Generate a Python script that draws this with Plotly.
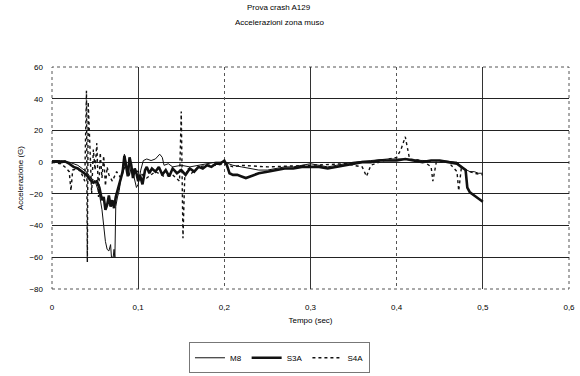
import plotly.graph_objects as go

# Crash test A129 - nose-zone accelerations (G) over time (s)
t_s3a = [0, 0.005, 0.01, 0.015, 0.02, 0.025, 0.03, 0.035, 0.04, 0.044, 0.048, 0.052,
         0.055, 0.058, 0.06, 0.062, 0.064, 0.066, 0.068, 0.07, 0.072, 0.074, 0.076,
         0.078, 0.08, 0.082, 0.084, 0.086, 0.088, 0.09, 0.092, 0.094, 0.096, 0.098,
         0.1, 0.102, 0.105, 0.108, 0.11, 0.113, 0.116, 0.12, 0.124, 0.128, 0.132,
         0.136, 0.14, 0.145, 0.15, 0.155, 0.16, 0.165, 0.17, 0.175, 0.18, 0.185,
         0.19, 0.195, 0.2, 0.203, 0.206, 0.21, 0.215, 0.22, 0.225, 0.23, 0.235, 0.24,
         0.25, 0.26, 0.27, 0.28, 0.29, 0.3, 0.31, 0.32, 0.33, 0.34, 0.35, 0.36, 0.37,
         0.38, 0.39, 0.4, 0.41, 0.42, 0.43, 0.44, 0.45, 0.46, 0.47, 0.475, 0.48,
         0.482, 0.485, 0.49, 0.495, 0.5]
v_s3a = [0, 0.5, 0, 0.5, -1, -3, -4, -6, -8, -11, -13, -12,
         -16, -24, -22, -30, -27, -21, -28, -24, -29, -22, -18,
         -15, -10, -6, 4, -4, -9, 3, -2, -10, -4, -7,
         -12, -8, -14, -5, -3, -7, -4, -6, -3, -8, -5,
         -9, -4, -7, -5, -8, -4, -6, -3, -4, -2, -3,
         -1, -1, 1, -2, -7, -8, -8, -9, -10, -9, -8, -7,
         -6, -5, -4, -4, -3, -3, -3, -4, -3, -2, -1, 0, 0,
         1, 1, 1, 2, 1, 0, 1, 1, 0, -1, -3, -5,
         -16, -19, -21, -23, -25]

t_m8 = [0, 0.01, 0.02, 0.03, 0.035, 0.04, 0.045, 0.05, 0.055, 0.058, 0.06, 0.062,
        0.064, 0.066, 0.068, 0.069, 0.071, 0.072, 0.073, 0.074, 0.076, 0.078, 0.08,
        0.082, 0.084, 0.086, 0.088, 0.09, 0.092, 0.095, 0.098, 0.1, 0.103, 0.106,
        0.11, 0.115, 0.12, 0.125, 0.128, 0.13, 0.135, 0.14, 0.15, 0.16, 0.17, 0.18,
        0.19, 0.2, 0.205, 0.21, 0.22, 0.23, 0.24, 0.25, 0.26, 0.27, 0.28, 0.29, 0.3,
        0.31, 0.32, 0.33, 0.34, 0.35, 0.37, 0.39, 0.41, 0.43, 0.45, 0.47, 0.478,
        0.485, 0.49, 0.495, 0.5]
v_m8 = [1, 1, 0, -2, -4, -6, -10, -12, -20, -30, -40, -50,
        -55, -56, -52, -60, -60, -55, -60, -28, -22, -18, -10,
        -4, 5, 0, -6, -8, -3, -9, -16, -14, -5, 1,
        2, 1, 2, 5, 3, -2, -1, -3, -2, -3, -2, -1,
        0, 0, -1, -2, -3, -4, -5, -5, -4, -3, -3, -2, -1,
        -2, -3, -2, -1, 0, 1, 2, 2, 1, 1, 0, -4,
        -6, -6, -7, -7]

t_s4a = [0, 0.01, 0.015, 0.02, 0.022, 0.024, 0.03, 0.035, 0.038, 0.04, 0.041, 0.042,
         0.044, 0.046, 0.048, 0.05, 0.052, 0.054, 0.056, 0.058, 0.06, 0.062, 0.064,
         0.066, 0.07, 0.075, 0.08, 0.085, 0.09, 0.095, 0.1, 0.11, 0.12, 0.13, 0.14,
         0.148, 0.15, 0.152, 0.154, 0.158, 0.162, 0.17, 0.18, 0.19, 0.2, 0.21, 0.22,
         0.25, 0.3, 0.34, 0.36, 0.365, 0.37, 0.39, 0.4, 0.405, 0.41, 0.415, 0.43,
         0.44, 0.442, 0.446, 0.46, 0.47, 0.472, 0.475, 0.48, 0.49, 0.5]
v_s4a = [0, -1, -3, -6, -18, -5, -4, -8, -12, 45, -63, 38,
         10, -20, 8, -5, 12, -22, 6, -10, 4, -15, -3,
         -8, -12, -6, -10, -2, -8, -5, -6, -10, -6, -9, -8,
         -12, 32, -48, -10, -4, -7, -3, -2, -2, -1, -3, -2,
         -3, -2, -1, -3, -9, -2, 2, 3, 8, 16, 2, 1,
         -3, -12, 0, 0, -6, -18, -4, -5, -7, -8]

x_ticks = [0, 0.1, 0.2, 0.3, 0.4, 0.5, 0.6]
y_ticks = [-80, -60, -40, -20, 0, 20, 40, 60]

FONT = "Liberation Sans, Arial, sans-serif"
INK = "#111111"

fig = go.Figure()
fig.add_trace(go.Scatter(x=t_m8, y=v_m8, mode="lines", name="M8",
                         line=dict(color=INK, width=1)))
fig.add_trace(go.Scatter(x=t_s3a, y=v_s3a, mode="lines", name="S3A",
                         line=dict(color=INK, width=2.6)))
fig.add_trace(go.Scatter(x=t_s4a, y=v_s4a, mode="lines", name="S4A",
                         line=dict(color=INK, width=1.4, dash="dot")))

inner_y = y_ticks[1:-1]
solid_x = [0.1, 0.3, 0.5]
dotted_x = [0.2, 0.4]

fig.update_layout(
    width=580, height=376,
    margin=dict(l=52, r=11, t=67, b=87, autoexpand=False),
    paper_bgcolor="white", plot_bgcolor="white",
    separators=",.",
    font=dict(family=FONT, size=8, color="#000"),
    showlegend=True,
    legend=dict(orientation="h", x=0.44, xanchor="center", y=-0.24, yanchor="top",
                bordercolor="#777", borderwidth=1, itemwidth=30,
                font=dict(size=8), tracegroupgap=0),
    xaxis=dict(range=[0, 0.6], tickvals=x_ticks, showgrid=False, zeroline=False,
               showline=False, ticks="", ticklabelstandoff=12,
               title=dict(text="Tempo (sec)", standoff=6, font=dict(size=8))),
    xaxis2=dict(range=[0, 0.6], overlaying="x", tickvals=solid_x, showgrid=True,
                gridcolor="#333", gridwidth=1, showticklabels=False, zeroline=False),
    xaxis3=dict(range=[0, 0.6], overlaying="x", tickvals=dotted_x, showgrid=True,
                gridcolor="#555", gridwidth=1, griddash="dot",
                showticklabels=False, zeroline=False),
    yaxis=dict(range=[-80, 60], tickvals=y_ticks, showgrid=False, zeroline=False,
               showline=False, ticks="", ticklabelstandoff=8,
               title=dict(text="Accelerazione (G)", standoff=4, font=dict(size=8))),
    yaxis2=dict(range=[-80, 60], overlaying="y", tickvals=inner_y, showgrid=True,
                gridcolor="#222", gridwidth=1, showticklabels=False, zeroline=False),
    shapes=[dict(type="rect", xref="x domain", yref="y domain", x0=0, x1=1, y0=0, y1=1,
                 line=dict(color="#555", width=1, dash="dot"), layer="below")],
    annotations=[
        dict(text="Prova crash A129", xref="paper", yref="paper", x=0.44, y=1.27,
             yanchor="middle", showarrow=False, font=dict(size=8)),
        dict(text="Accelerazioni zona muso", xref="paper", yref="paper", x=0.44, y=1.2,
             yanchor="middle", showarrow=False, font=dict(size=8)),
    ],
)

# invisible carriers so the overlay axes (grid only) get drawn
fig.add_trace(go.Scatter(x=[None], y=[None], xaxis="x2", yaxis="y2", showlegend=False,
                         hoverinfo="skip"))
fig.add_trace(go.Scatter(x=[None], y=[None], xaxis="x3", yaxis="y2", showlegend=False,
                         hoverinfo="skip"))

fig.write_html("out.html")
